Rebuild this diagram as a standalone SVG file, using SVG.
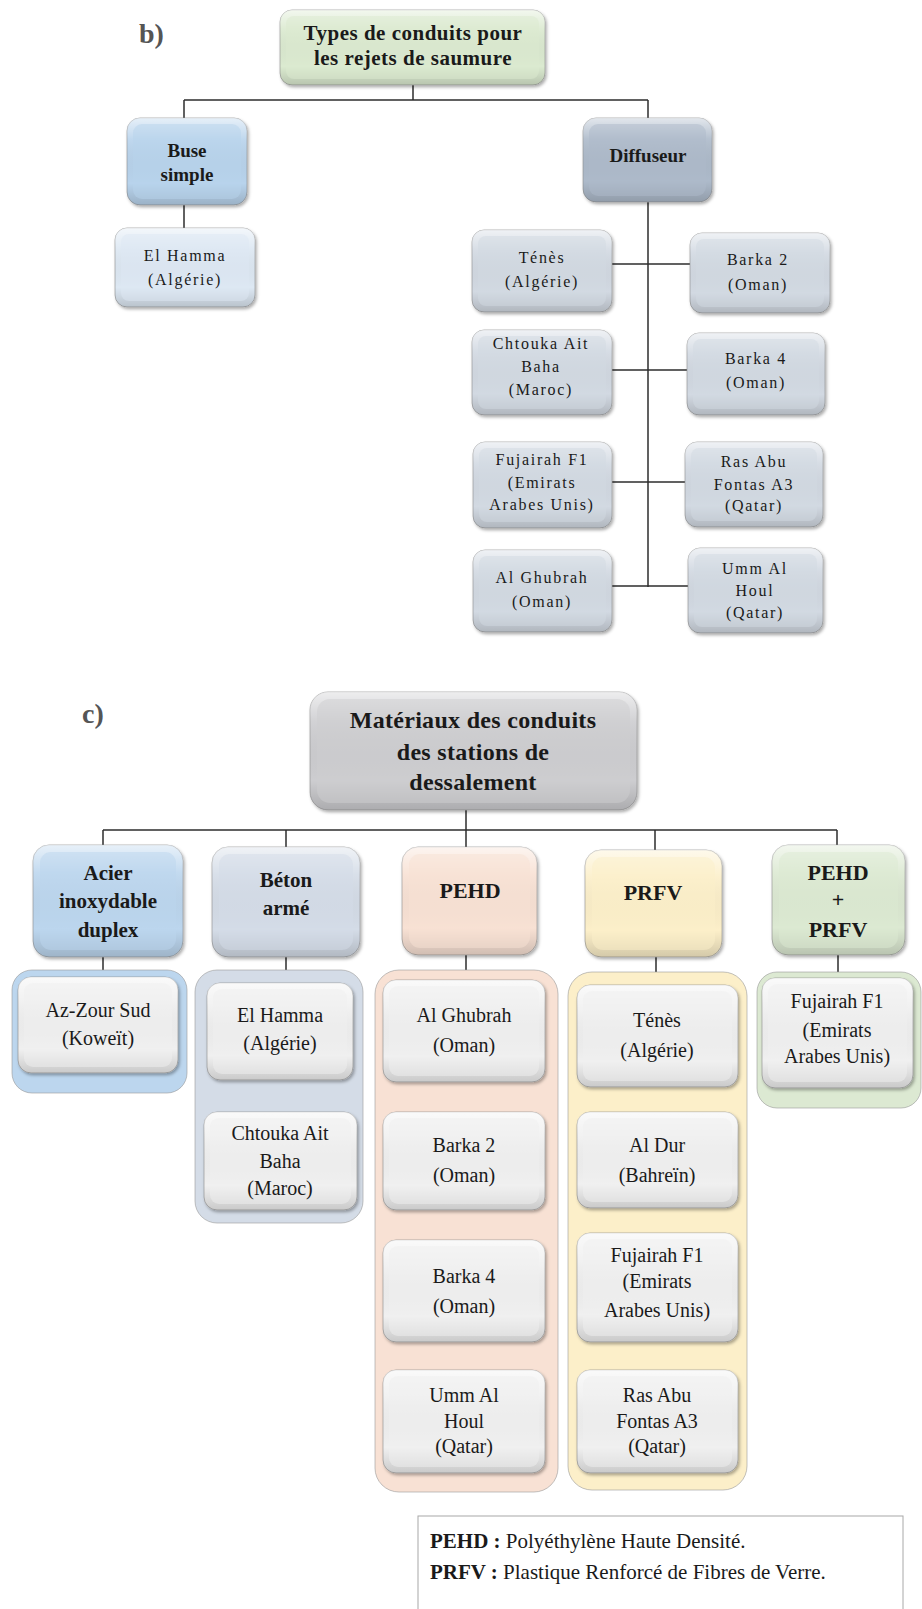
<svg xmlns="http://www.w3.org/2000/svg" width="922" height="1609" viewBox="0 0 922 1609">
  <style>
    .box{stroke:#8c8c8c;stroke-opacity:.6;stroke-width:1;filter:url(#sh)}
    .gl{fill:url(#gloss)}
    .face{opacity:.5}
    .cont{stroke:#9a9a9a;stroke-opacity:.6;stroke-width:1}
    .c-green{fill:#dbead0}
    .c-blue{fill:#b8d3ec}
    .c-lblue{fill:#dde8f3}
    .c-slate{fill:#adbaca}
    .c-grey{fill:#d2d9e2}
    .c-title{fill:#cdcdd0}
    .c-steel{fill:#bcd6ee}
    .c-beton{fill:#d4dce7}
    .c-pehd{fill:#f8e1d4}
    .c-prfv{fill:#fcefc9}
    .c-mix{fill:#dce9d2}
    .c-leaf{fill:#f0f0f0}
    .tb{font-family:"Liberation Serif",serif;font-weight:bold;fill:#1a1a1a;text-anchor:middle}
    .tr{font-family:"Liberation Serif",serif;fill:#1a1a1a;text-anchor:middle}
    .sb{font-size:16px;letter-spacing:1.7px}
    .sc{font-size:20px}
    .lab{font-family:"Liberation Serif",serif;font-weight:bold;font-size:28px;fill:#555}
    .ln{stroke:#2e2e2e;stroke-width:1.5;fill:none}
  </style>
  <defs>
    <filter id="sh" x="-10%" y="-10%" width="125%" height="130%">
      <feDropShadow dx="1.5" dy="2" stdDeviation="1.6" flood-color="#000" flood-opacity="0.32"/>
    </filter>
    <linearGradient id="gloss" x1="0" y1="0" x2="0" y2="1">
      <stop offset="0" stop-color="#fff" stop-opacity="0.65"/>
      <stop offset="0.25" stop-color="#fff" stop-opacity="0.1"/>
      <stop offset="0.75" stop-color="#000" stop-opacity="0"/>
      <stop offset="1" stop-color="#000" stop-opacity="0.16"/>
    </linearGradient>
  </defs>

  <!-- section labels -->
  <text class="lab" x="139" y="43">b)</text>
  <text class="lab" x="82" y="723">c)</text>

  <!-- connectors -->
  <g id="connectors">
    <path class="ln" d="M413,85V100M184,100H648M184,100V118M648,100V118M184,205V228M648,202V587M612,264H690M612,370H687M612,482H685M612,586H688"/>
    <path class="ln" d="M466,810V847M103,830H837M103,830V845M286,830V847M655,830V850M837,830V845"/>
    <path class="ln" d="M103,957V970M286,957V970M466,955V970M656,957V972M838,955V972"/>
  </g>

  <!-- b) brine outfall types -->
  <g id="b-root">
    <rect class="box c-green" x="280" y="10" width="265" height="75" rx="12"/>
    <rect class="gl" x="280" y="10" width="265" height="75" rx="12"/>
    <rect class="face c-green" x="286" y="16" width="253" height="63" rx="8"/>
    <text class="tb" font-size="21" letter-spacing="0.5"><tspan x="413" y="40">Types de conduits pour</tspan><tspan x="413" y="65">les rejets de saumure</tspan></text>
  </g>
  <g id="b-buse">
    <rect class="box c-blue" x="127" y="118" width="120" height="87" rx="13"/>
    <rect class="gl" x="127" y="118" width="120" height="87" rx="13"/>
    <rect class="face c-blue" x="133" y="124" width="108" height="75" rx="9"/>
    <text class="tb" font-size="19"><tspan x="187" y="157">Buse</tspan><tspan x="187" y="181">simple</tspan></text>
  </g>
  <g id="b-elhamma">
    <rect class="box c-lblue" x="115" y="228" width="140" height="79" rx="12"/>
    <rect class="gl" x="115" y="228" width="140" height="79" rx="12"/>
    <rect class="face c-lblue" x="121" y="234" width="128" height="67" rx="8"/>
    <text class="tr sb"><tspan x="185" y="261">El Hamma</tspan><tspan x="185" y="285">(Algérie)</tspan></text>
  </g>
  <g id="b-diffuseur">
    <rect class="box c-slate" x="583" y="118" width="129" height="84" rx="13"/>
    <rect class="gl" x="583" y="118" width="129" height="84" rx="13"/>
    <rect class="face c-slate" x="589" y="124" width="117" height="72" rx="9"/>
    <text class="tb" font-size="19" x="648" y="162">Diffuseur</text>
  </g>
  <g id="b-tenes">
    <rect class="box c-grey" x="472" y="230" width="140" height="82" rx="12"/>
    <rect class="gl" x="472" y="230" width="140" height="82" rx="12"/>
    <rect class="face c-grey" x="478" y="236" width="128" height="70" rx="8"/>
    <text class="tr sb"><tspan x="542" y="263">Ténès</tspan><tspan x="542" y="287">(Algérie)</tspan></text>
  </g>
  <g id="b-barka2">
    <rect class="box c-grey" x="690" y="233" width="140" height="80" rx="12"/>
    <rect class="gl" x="690" y="233" width="140" height="80" rx="12"/>
    <rect class="face c-grey" x="696" y="239" width="128" height="68" rx="8"/>
    <text class="tr sb"><tspan x="758" y="265">Barka 2</tspan><tspan x="758" y="290">(Oman)</tspan></text>
  </g>
  <g id="b-chtouka">
    <rect class="box c-grey" x="472" y="330" width="140" height="85" rx="12"/>
    <rect class="gl" x="472" y="330" width="140" height="85" rx="12"/>
    <rect class="face c-grey" x="478" y="336" width="128" height="73" rx="8"/>
    <text class="tr sb"><tspan x="541" y="349">Chtouka Ait</tspan><tspan x="541" y="372">Baha</tspan><tspan x="541" y="395">(Maroc)</tspan></text>
  </g>
  <g id="b-barka4">
    <rect class="box c-grey" x="687" y="333" width="138" height="82" rx="12"/>
    <rect class="gl" x="687" y="333" width="138" height="82" rx="12"/>
    <rect class="face c-grey" x="693" y="339" width="126" height="70" rx="8"/>
    <text class="tr sb"><tspan x="756" y="364">Barka 4</tspan><tspan x="756" y="388">(Oman)</tspan></text>
  </g>
  <g id="b-fujairah">
    <rect class="box c-grey" x="473" y="442" width="139" height="86" rx="12"/>
    <rect class="gl" x="473" y="442" width="139" height="86" rx="12"/>
    <rect class="face c-grey" x="479" y="448" width="127" height="74" rx="8"/>
    <text class="tr sb"><tspan x="542" y="465">Fujairah F1</tspan><tspan x="542" y="488">(Emirats</tspan><tspan x="542" y="510">Arabes Unis)</tspan></text>
  </g>
  <g id="b-rasabu">
    <rect class="box c-grey" x="685" y="442" width="138" height="85" rx="12"/>
    <rect class="gl" x="685" y="442" width="138" height="85" rx="12"/>
    <rect class="face c-grey" x="691" y="448" width="126" height="73" rx="8"/>
    <text class="tr sb"><tspan x="754" y="467">Ras Abu</tspan><tspan x="754" y="490">Fontas A3</tspan><tspan x="754" y="511">(Qatar)</tspan></text>
  </g>
  <g id="b-alghubrah">
    <rect class="box c-grey" x="473" y="550" width="139" height="82" rx="12"/>
    <rect class="gl" x="473" y="550" width="139" height="82" rx="12"/>
    <rect class="face c-grey" x="479" y="556" width="127" height="70" rx="8"/>
    <text class="tr sb"><tspan x="542" y="583">Al Ghubrah</tspan><tspan x="542" y="607">(Oman)</tspan></text>
  </g>
  <g id="b-ummalhoul">
    <rect class="box c-grey" x="688" y="548" width="135" height="85" rx="12"/>
    <rect class="gl" x="688" y="548" width="135" height="85" rx="12"/>
    <rect class="face c-grey" x="694" y="554" width="123" height="73" rx="8"/>
    <text class="tr sb"><tspan x="755" y="574">Umm Al</tspan><tspan x="755" y="596">Houl</tspan><tspan x="755" y="618">(Qatar)</tspan></text>
  </g>

  <!-- c) pipe materials -->
  <g id="c-root">
    <rect class="box c-title" x="310" y="692" width="327" height="118" rx="18"/>
    <rect class="gl" x="310" y="692" width="327" height="118" rx="18"/>
    <rect class="face c-title" x="317" y="699" width="313" height="104" rx="13"/>
    <text class="tb" font-size="24" letter-spacing="0.3"><tspan x="473" y="728">Matériaux des conduits</tspan><tspan x="473" y="760">des stations de</tspan><tspan x="473" y="790">dessalement</tspan></text>
  </g>

  <!-- group containers -->
  <g id="c-groups">
    <rect class="cont c-steel" x="12" y="970" width="175" height="123" rx="20"/>
    <rect class="cont c-beton" x="195" y="970" width="168" height="253" rx="22"/>
    <rect class="cont c-pehd" x="375" y="970" width="183" height="522" rx="24"/>
    <rect class="cont c-prfv" x="568" y="972" width="179" height="518" rx="24"/>
    <rect class="cont c-mix" x="757" y="972" width="164" height="136" rx="20"/>
  </g>

  <g id="c-acier">
    <rect class="box c-steel" x="33" y="845" width="150" height="112" rx="16"/>
    <rect class="gl" x="33" y="845" width="150" height="112" rx="16"/>
    <rect class="face c-steel" x="40" y="852" width="136" height="98" rx="11"/>
    <text class="tb" font-size="21"><tspan x="108" y="880">Acier</tspan><tspan x="108" y="908">inoxydable</tspan><tspan x="108" y="937">duplex</tspan></text>
  </g>
  <g id="c-beton">
    <rect class="box c-beton" x="212" y="847" width="148" height="110" rx="16"/>
    <rect class="gl" x="212" y="847" width="148" height="110" rx="16"/>
    <rect class="face c-beton" x="219" y="854" width="134" height="96" rx="11"/>
    <text class="tb" font-size="21"><tspan x="286" y="887">Béton</tspan><tspan x="286" y="915">armé</tspan></text>
  </g>
  <g id="c-pehd">
    <rect class="box c-pehd" x="402" y="847" width="135" height="108" rx="16"/>
    <rect class="gl" x="402" y="847" width="135" height="108" rx="16"/>
    <rect class="face c-pehd" x="409" y="854" width="121" height="94" rx="11"/>
    <text class="tb" font-size="22" x="470" y="898">PEHD</text>
  </g>
  <g id="c-prfv">
    <rect class="box c-prfv" x="585" y="850" width="137" height="107" rx="16"/>
    <rect class="gl" x="585" y="850" width="137" height="107" rx="16"/>
    <rect class="face c-prfv" x="592" y="857" width="123" height="93" rx="11"/>
    <text class="tb" font-size="22" x="653" y="900">PRFV</text>
  </g>
  <g id="c-mix">
    <rect class="box c-mix" x="772" y="845" width="133" height="110" rx="16"/>
    <rect class="gl" x="772" y="845" width="133" height="110" rx="16"/>
    <rect class="face c-mix" x="779" y="852" width="119" height="96" rx="11"/>
    <text class="tb" font-size="22"><tspan x="838" y="880">PEHD</tspan><tspan x="838" y="907">+</tspan><tspan x="838" y="937">PRFV</tspan></text>
  </g>

  <!-- plants per material -->
  <g id="c-azzour">
    <rect class="box c-leaf" x="18" y="977" width="160" height="96" rx="13"/>
    <rect class="gl" x="18" y="977" width="160" height="96" rx="13"/>
    <rect class="face c-leaf" x="24" y="983" width="148" height="84" rx="9"/>
    <text class="tr sc"><tspan x="98" y="1017">Az-Zour Sud</tspan><tspan x="98" y="1045">(Koweït)</tspan></text>
  </g>
  <g id="c-elhamma">
    <rect class="box c-leaf" x="207" y="983" width="146" height="97" rx="13"/>
    <rect class="gl" x="207" y="983" width="146" height="97" rx="13"/>
    <rect class="face c-leaf" x="213" y="989" width="134" height="85" rx="9"/>
    <text class="tr sc"><tspan x="280" y="1022">El Hamma</tspan><tspan x="280" y="1050">(Algérie)</tspan></text>
  </g>
  <g id="c-chtouka">
    <rect class="box c-leaf" x="204" y="1112" width="153" height="98" rx="13"/>
    <rect class="gl" x="204" y="1112" width="153" height="98" rx="13"/>
    <rect class="face c-leaf" x="210" y="1118" width="141" height="86" rx="9"/>
    <text class="tr sc"><tspan x="280" y="1140">Chtouka Ait</tspan><tspan x="280" y="1168">Baha</tspan><tspan x="280" y="1195">(Maroc)</tspan></text>
  </g>
  <g id="c-alghubrah">
    <rect class="box c-leaf" x="383" y="980" width="162" height="102" rx="13"/>
    <rect class="gl" x="383" y="980" width="162" height="102" rx="13"/>
    <rect class="face c-leaf" x="389" y="986" width="150" height="90" rx="9"/>
    <text class="tr sc"><tspan x="464" y="1022">Al Ghubrah</tspan><tspan x="464" y="1052">(Oman)</tspan></text>
  </g>
  <g id="c-barka2">
    <rect class="box c-leaf" x="383" y="1112" width="162" height="98" rx="13"/>
    <rect class="gl" x="383" y="1112" width="162" height="98" rx="13"/>
    <rect class="face c-leaf" x="389" y="1118" width="150" height="86" rx="9"/>
    <text class="tr sc"><tspan x="464" y="1152">Barka 2</tspan><tspan x="464" y="1182">(Oman)</tspan></text>
  </g>
  <g id="c-barka4">
    <rect class="box c-leaf" x="383" y="1240" width="162" height="102" rx="13"/>
    <rect class="gl" x="383" y="1240" width="162" height="102" rx="13"/>
    <rect class="face c-leaf" x="389" y="1246" width="150" height="90" rx="9"/>
    <text class="tr sc"><tspan x="464" y="1283">Barka 4</tspan><tspan x="464" y="1313">(Oman)</tspan></text>
  </g>
  <g id="c-ummalhoul">
    <rect class="box c-leaf" x="383" y="1370" width="162" height="103" rx="13"/>
    <rect class="gl" x="383" y="1370" width="162" height="103" rx="13"/>
    <rect class="face c-leaf" x="389" y="1376" width="150" height="91" rx="9"/>
    <text class="tr sc"><tspan x="464" y="1402">Umm Al</tspan><tspan x="464" y="1428">Houl</tspan><tspan x="464" y="1453">(Qatar)</tspan></text>
  </g>
  <g id="c-tenes">
    <rect class="box c-leaf" x="577" y="985" width="161" height="102" rx="13"/>
    <rect class="gl" x="577" y="985" width="161" height="102" rx="13"/>
    <rect class="face c-leaf" x="583" y="991" width="149" height="90" rx="9"/>
    <text class="tr sc"><tspan x="657" y="1027">Ténès</tspan><tspan x="657" y="1057">(Algérie)</tspan></text>
  </g>
  <g id="c-aldur">
    <rect class="box c-leaf" x="577" y="1112" width="161" height="96" rx="13"/>
    <rect class="gl" x="577" y="1112" width="161" height="96" rx="13"/>
    <rect class="face c-leaf" x="583" y="1118" width="149" height="84" rx="9"/>
    <text class="tr sc"><tspan x="657" y="1152">Al Dur</tspan><tspan x="657" y="1182">(Bahreïn)</tspan></text>
  </g>
  <g id="c-fujairah">
    <rect class="box c-leaf" x="577" y="1233" width="161" height="109" rx="13"/>
    <rect class="gl" x="577" y="1233" width="161" height="109" rx="13"/>
    <rect class="face c-leaf" x="583" y="1239" width="149" height="97" rx="9"/>
    <text class="tr sc"><tspan x="657" y="1262">Fujairah F1</tspan><tspan x="657" y="1288">(Emirats</tspan><tspan x="657" y="1317">Arabes Unis)</tspan></text>
  </g>
  <g id="c-rasabu">
    <rect class="box c-leaf" x="577" y="1370" width="161" height="103" rx="13"/>
    <rect class="gl" x="577" y="1370" width="161" height="103" rx="13"/>
    <rect class="face c-leaf" x="583" y="1376" width="149" height="91" rx="9"/>
    <text class="tr sc"><tspan x="657" y="1402">Ras Abu</tspan><tspan x="657" y="1428">Fontas A3</tspan><tspan x="657" y="1453">(Qatar)</tspan></text>
  </g>
  <g id="c-fujairah-mix">
    <rect class="box c-leaf" x="762" y="978" width="151" height="110" rx="13"/>
    <rect class="gl" x="762" y="978" width="151" height="110" rx="13"/>
    <rect class="face c-leaf" x="768" y="984" width="139" height="98" rx="9"/>
    <text class="tr sc"><tspan x="837" y="1008">Fujairah F1</tspan><tspan x="837" y="1037">(Emirats</tspan><tspan x="837" y="1063">Arabes Unis)</tspan></text>
  </g>

  <!-- abbreviations -->
  <g id="legend">
    <rect x="418" y="1516" width="485" height="110" fill="#fff" stroke="#a8a8a8" stroke-width="1"/>
    <text font-family="Liberation Serif, serif" font-size="21" fill="#1a1a1a"><tspan x="430" y="1548" font-weight="bold">PEHD :</tspan><tspan> Polyéthylène Haute Densité.</tspan></text>
    <text font-family="Liberation Serif, serif" font-size="21" fill="#1a1a1a"><tspan x="430" y="1579" font-weight="bold">PRFV :</tspan><tspan> Plastique Renforcé de Fibres de Verre.</tspan></text>
  </g>
</svg>
